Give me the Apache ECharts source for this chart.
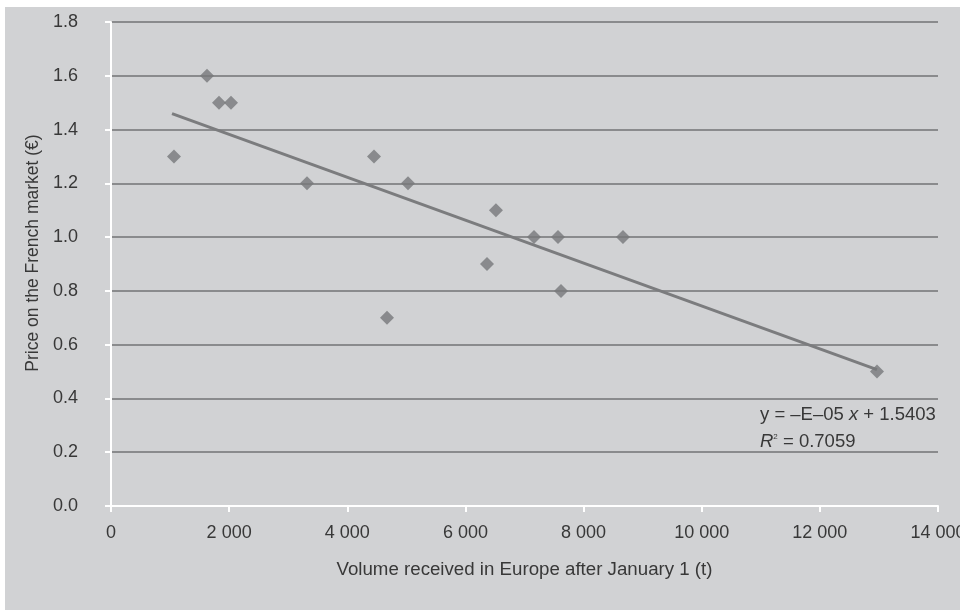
<!DOCTYPE html>
<html>
<head>
<meta charset="utf-8">
<script src="https://cdn.jsdelivr.net/npm/echarts@6/dist/echarts.min.js"></script>
<style>
html,body{margin:0;padding:0;background:#fff;}
#bg{position:absolute;left:5px;top:7px;width:955px;height:603px;background:#d1d2d4;}
#chart{position:absolute;left:0;top:0;width:960px;height:610px;}
</style>
</head>
<body>
<div id="bg"></div>
<div id="chart"></div>
<script>
// Volume received in Europe after January 1 (t)
const volumes = [1066, 1625, 1828, 2031, 3318, 4452, 4672, 5028, 6365, 6517, 7161, 7567, 7618, 8667, 12967];
// Price on the French market (€)
const prices  = [1.3, 1.6, 1.5, 1.5, 1.2, 1.3, 0.7, 1.2, 0.9, 1.1, 1.0, 1.0, 0.8, 1.0, 0.5];
// Linear trendline end points as drawn
const trendX = [1033, 12967];
const trendY = [1.459, 0.507];
const equationText = ['y = –E–05 ', 'x', ' + 1.5403'];
const r2Text = ['R', '2', ' = 0.7059'];

const points = volumes.map((v, i) => [v, prices[i]]);
const trend = trendX.map((v, i) => [v, trendY[i]]);

const chart = echarts.init(document.getElementById('chart'));
const textColor = '#383838';
const font = 'Liberation Sans, Arial, sans-serif';
const fs = 18;
const fsEq = 18.5;
chart.setOption({
  backgroundColor: 'transparent',
  animation: false,
  textStyle: { fontFamily: font },
  grid: { left: 111, right: 22, top: 22, bottom: 104, containLabel: false, outerBoundsMode: 'none' },
  xAxis: {
    type: 'value', min: 0, max: 14000, interval: 2000,
    name: 'Volume received in Europe after January 1 (t)',
    nameLocation: 'middle', nameGap: 54,
    nameTextStyle: { color: textColor, fontSize: 18.7, fontFamily: font },
    axisLine: { show: true, lineStyle: { color: '#ffffff', width: 2 } },
    axisTick: { show: true, length: 6, lineStyle: { color: '#ffffff', width: 2 } },
    axisLabel: { color: textColor, fontSize: fs, margin: 18, fontFamily: font,
      formatter: v => String(v).replace(/\B(?=(\d{3})+(?!\d))/g, '\u00a0') },
    splitLine: { show: false }
  },
  yAxis: {
    type: 'value', min: 0, max: 1.8, interval: 0.2,
    name: 'Price on the French market (€)',
    nameLocation: 'middle', nameGap: 62,
    nameTextStyle: { color: textColor, fontSize: 17.5, fontFamily: font, padding: [0, 0, 0, 22] },
    axisLine: { show: true, lineStyle: { color: '#ffffff', width: 2 } },
    axisTick: { show: true, length: 6, lineStyle: { color: '#ffffff', width: 2 } },
    axisLabel: { color: textColor, fontSize: fs, margin: 33, fontFamily: font,
      formatter: v => v.toFixed(1) },
    splitLine: { show: true, lineStyle: { color: '#8a8b8d', width: 2 } }
  },
  series: [
    {
      type: 'line', data: trend, symbol: 'none', z: 2,
      lineStyle: { color: '#7b7c7e', width: 3 }
    },
    {
      type: 'scatter', data: points, symbol: 'diamond', symbolSize: 14, z: 3,
      itemStyle: { color: '#77787a' }
    }
  ],
  graphic: [
    {
      type: 'text', left: 760, top: 405, z: 10,
      style: {
        rich: {
          n: { fontSize: fsEq, fill: textColor, fontFamily: font },
          i: { fontSize: fsEq, fill: textColor, fontFamily: font, fontStyle: 'italic' }
        },
        text: '{n|' + equationText[0] + '}{i|' + equationText[1] + '}{n|' + equationText[2] + '}'
      }
    },
    {
      type: 'text', left: 760, top: 432, z: 10,
      style: {
        rich: {
          n: { fontSize: fsEq, fill: textColor, fontFamily: font },
          i: { fontSize: fsEq, fill: textColor, fontFamily: font, fontStyle: 'italic' },
          s: { fontSize: 8, fill: textColor, fontFamily: font, padding: [0, 0, 9, 0] }
        },
        text: '{i|' + r2Text[0] + '}{s|' + r2Text[1] + '}{n|' + r2Text[2] + '}'
      }
    }
  ]
});
</script>
</body>
</html>
